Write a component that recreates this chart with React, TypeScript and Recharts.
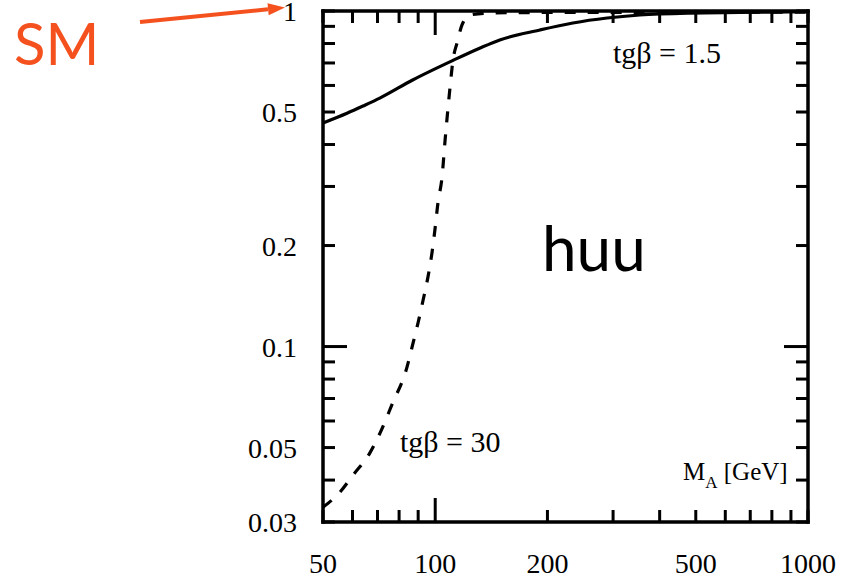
import { LineChart, Line, XAxis, YAxis } from 'recharts';

const W = 846;
const H = 581;
const SERIF = '"Liberation Serif", "Times New Roman", serif';
const SANS = 'Lato, "Open Sans", sans-serif';
const ACCENT = '#F4511E';

const xTicks = [50, 60, 70, 80, 90, 100, 200, 300, 400, 500, 600, 700, 800, 900, 1000];
const xLabels = [50, 100, 200, 500, 1000];
const yTicks = [0.03, 0.04, 0.05, 0.06, 0.07, 0.08, 0.09, 0.1, 0.2, 0.3, 0.4, 0.5, 0.6, 0.7, 0.8, 0.9, 1];
const yLabels = [0.03, 0.05, 0.1, 0.2, 0.5, 1];

// tgβ = 1.5 (solid)
const lowTanBetaMa = [50, 58, 64, 71, 87, 112, 132, 149, 191, 234, 289, 354, 482, 657, 1000];
const lowTanBetaR = [0.464, 0.496, 0.521, 0.55, 0.623, 0.714, 0.776, 0.82, 0.878, 0.921, 0.953, 0.973, 0.986, 0.99, 0.995];

// tgβ = 30 (dashed)
const highTanBetaMa = [50, 55.5, 60.2, 66.8, 71.1, 76.5, 84, 87.2, 89.9, 92.8, 95.6, 98, 99.8, 101.7, 104.3, 106.3, 108.3, 109.6, 111.6, 114.4, 118, 124, 140, 200, 1000];
const highTanBetaR = [0.0332, 0.0368, 0.0414, 0.0482, 0.0552, 0.067, 0.0868, 0.1024, 0.1175, 0.1376, 0.161, 0.19, 0.2225, 0.268, 0.32, 0.413, 0.518, 0.594, 0.714, 0.803, 0.909, 0.973, 0.986, 0.99, 0.992];

const lowTanBeta = lowTanBetaMa.map((ma, i) => ({ ma, r: lowTanBetaR[i] }));
const highTanBeta = highTanBetaMa.map((ma, i) => ({ ma, r: highTanBetaR[i] }));

const MINOR = 12;
const MAJOR = 24;

const tickLen = (v: number) => (v === 100 || v === 0.1 ? MAJOR : MINOR);

const labelStyle = { fontFamily: SERIF, fontSize: 28, fill: '#000' };

function BottomTick({ x, y, payload }: any) {
  const v = payload.value;
  return (
    <g>
      <line x1={x} x2={x} y1={y} y2={y - tickLen(v)} stroke="#000" strokeWidth={3} />
      {xLabels.includes(v) && (
        <text x={x} y={y + 51} textAnchor="middle" {...labelStyle}>
          {v}
        </text>
      )}
    </g>
  );
}

function TopTick({ x, y, payload }: any) {
  return <line x1={x} x2={x} y1={y} y2={y + tickLen(payload.value)} stroke="#000" strokeWidth={3} />;
}

function LeftTick({ x, y, payload }: any) {
  const v = payload.value;
  return (
    <g>
      <line x1={x} x2={x + tickLen(v)} y1={y} y2={y} stroke="#000" strokeWidth={3} />
      {yLabels.includes(v) && (
        <text x={x - 26} y={y + 10} textAnchor="end" {...labelStyle}>
          {v}
        </text>
      )}
    </g>
  );
}

function RightTick({ x, y, payload }: any) {
  return <line x1={x} x2={x - tickLen(payload.value)} y1={y} y2={y} stroke="#000" strokeWidth={3} />;
}

const frame = { stroke: '#000', strokeWidth: 3.5, strokeLinecap: 'square' as const };

export default function App() {
  return (
    <div style={{ position: 'absolute', left: 0, top: 0, width: W, height: H, background: '#fff' }}>
      <LineChart width={W} height={H} margin={{ top: 10, right: 37, bottom: 58, left: 322 }}>
        <XAxis
          xAxisId="b"
          type="number"
          dataKey="ma"
          scale="log"
          domain={[50, 1000]}
          allowDataOverflow
          ticks={xTicks}
          interval={0}
          height={1}
          tickSize={0}
          tickMargin={0}
          tick={BottomTick}
          axisLine={frame}
        />
        <XAxis
          xAxisId="t"
          orientation="top"
          type="number"
          dataKey="ma"
          scale="log"
          domain={[50, 1000]}
          allowDataOverflow
          ticks={xTicks}
          interval={0}
          height={1}
          tickSize={0}
          tickMargin={0}
          tick={TopTick}
          axisLine={frame}
        />
        <YAxis
          yAxisId="l"
          type="number"
          scale="log"
          domain={[0.03, 1]}
          allowDataOverflow
          ticks={yTicks}
          interval={0}
          width={1}
          tickSize={0}
          tickMargin={0}
          tick={LeftTick}
          axisLine={frame}
        />
        <YAxis
          yAxisId="r"
          orientation="right"
          type="number"
          scale="log"
          domain={[0.03, 1]}
          allowDataOverflow
          ticks={yTicks}
          interval={0}
          width={1}
          tickSize={0}
          tickMargin={0}
          tick={RightTick}
          axisLine={frame}
        />
        <Line
          xAxisId="b"
          yAxisId="l"
          data={lowTanBeta}
          dataKey="r"
          type="monotone"
          stroke="#000"
          strokeWidth={3.2}
          dot={false}
          isAnimationActive={false}
        />
        <Line
          xAxisId="b"
          yAxisId="l"
          data={highTanBeta}
          dataKey="r"
          type="monotone"
          stroke="#000"
          strokeWidth={3.2}
          strokeDasharray="11 12"
          dot={false}
          isAnimationActive={false}
        />
      </LineChart>
      <svg width={W} height={H} style={{ position: 'absolute', left: 0, top: 0, pointerEvents: 'none' }}>
        <text x={14} y={65} fontFamily={SANS} fontSize={58} fill={ACCENT}>
          SM
        </text>
        <line x1={140} y1={22} x2={268} y2={9.3} stroke={ACCENT} strokeWidth={4} />
        <polygon points="285,7.5 268.7,15.2 267.5,3.3" fill={ACCENT} />
        <text x={613} y={63} {...labelStyle} fontSize={30}>
          tgβ = 1.5
        </text>
        <text x={400} y={452} {...labelStyle} fontSize={30}>
          tgβ = 30
        </text>
        <text x={542} y={271} fontFamily={SANS} fontSize={62} fill="#000">
          huu
        </text>
        <text x={683} y={480} {...labelStyle} fontSize={25}>
          M
          <tspan fontSize={17} dy={8}>
            A
          </tspan>
          <tspan dy={-8}> [GeV]</tspan>
        </text>
      </svg>
    </div>
  );
}
